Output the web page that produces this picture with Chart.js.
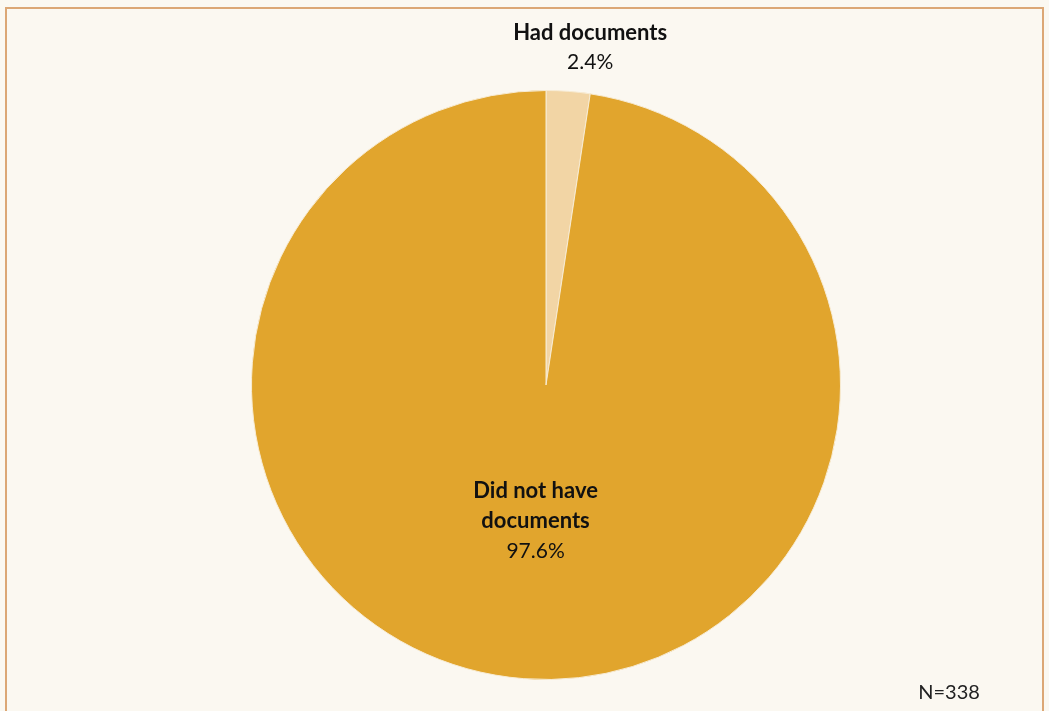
<!DOCTYPE html>
<html>
<head>
<meta charset="utf-8">
<script src="https://cdn.jsdelivr.net/npm/chart.js@4.4.1/dist/chart.umd.min.js"></script>
<style>
  html, body { margin: 0; padding: 0; background: #FBF8F1; }
  #wrap { position: relative; width: 1049px; height: 711px; overflow: hidden; }
  #frame {
    position: absolute; left: 5px; top: 7px; width: 1039px; height: 720px;
    border: 2px solid #DCA775; box-sizing: border-box;
  }
  canvas { position: absolute; left: 0; top: 0; }
</style>
</head>
<body>
<div id="wrap">
  <div id="frame"></div>
  <canvas id="pie" width="1049" height="711"></canvas>
</div>
<script>
// slice data
const categories = ["Had documents", "Did not have documents"];
const labelLines = [["Had documents"], ["Did not have", "documents"]];
const shares = [2.4, 97.6];
const colors = ["#F2D5A5", "#E1A52D"];
const sampleNote = "N=338";

const FONT = "Lato, 'Open Sans', sans-serif";

// draws the data labels + the N note
const sliceLabels = {
    id: "sliceLabels",
    afterDraw(chart) {
        const ctx = chart.ctx;
        const arcs = chart.getDatasetMeta(0).data;
        ctx.save();
        ctx.textAlign = "center";
        ctx.textBaseline = "middle";
        ctx.fillStyle = "#111";

        arcs.forEach((arc, i) => {
            const r = arc.outerRadius;
            let x, y;
            if (i === 0) {
                // small slice -> label sits above the pie
                x = arc.x + r * 0.15;
                y = arc.y - r - 58;
            } else {
                const mid = (arc.startAngle + arc.endAngle) / 2;
                x = arc.x + Math.cos(mid) * r * 0.47;
                y = arc.y + Math.sin(mid) * r * 0.47 - 32;
            }
            const lines = labelLines[i];
            ctx.font = "bold 22px " + FONT;
            lines.forEach((ln, k) => {
                ctx.fillText(ln, x, y + k * 30);
            });
            ctx.font = "21px " + FONT;
            ctx.fillText(shares[i].toFixed(1) + "%", x, y + lines.length * 30);
        });

        ctx.font = "20px " + FONT;
        ctx.fillStyle = "#222";
        ctx.fillText(sampleNote, 949, 693);
        ctx.restore();
    }
};

new Chart(document.getElementById("pie").getContext("2d"), {
    type: "pie",
    data: {
        labels: categories,
        datasets: [{
            data: shares,
            backgroundColor: colors,
            borderColor: "#F7EBD3",
            borderWidth: 1
        }]
    },
    options: {
        responsive: false,
        animation: false,
        layout: { padding: { left: 251, right: 208, top: 90, bottom: 31 } },
        plugins: {
            legend: { display: false },
            tooltip: { enabled: false }
        }
    },
    plugins: [sliceLabels]
});
</script>
</body>
</html>
